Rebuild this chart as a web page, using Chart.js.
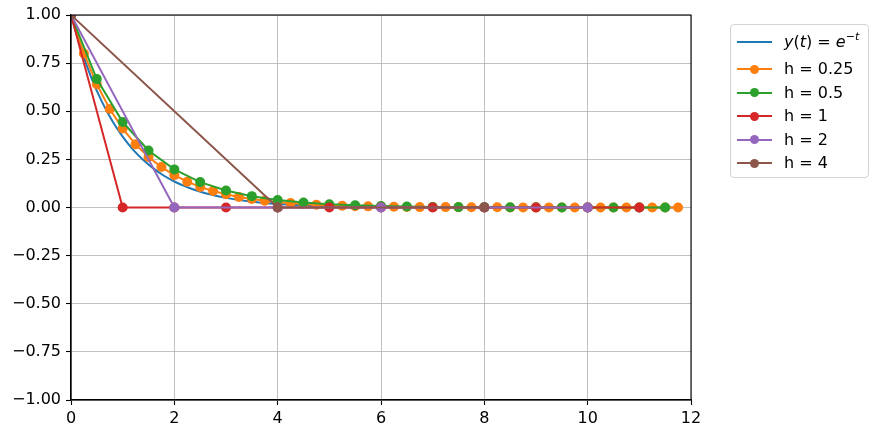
<!DOCTYPE html>
<html>
<head>
<meta charset="utf-8">
<script src="https://cdn.jsdelivr.net/npm/chart.js@4/dist/chart.umd.min.js"></script>
<style>
    body { margin: 0; background: #fff; }
    #wrap { position: relative; width: 878px; height: 435px; }
    #legend {
        position: absolute; left: 730px; top: 24px; width: 137px; height: 152px;
        border: 1px solid #d3d3d3; border-radius: 4px; background: rgba(255,255,255,0.8);
        font-family: "DejaVu Sans", sans-serif; font-size: 16px; color: #000;
    }
    .row { position: absolute; left: 0; height: 20px; width: 137px; }
    .row .ln { position: absolute; left: 6px; top: 9px; width: 35px; height: 2px; }
    .row .mk { position: absolute; left: 18.5px; top: 5.5px; width: 9px; height: 9px; border-radius: 50%; }
    .row .tx { position: absolute; left: 53px; top: 0; line-height: 20px; white-space: nowrap; }
    .row sup { font-size: 11px; vertical-align: 7px; line-height: 0; }
</style>
</head>
<body>
<div id="wrap">
    <canvas id="chart" width="878" height="435"></canvas>
    <div id="legend"></div>
</div>
<script>
// exakte Loesung y(t) = e^-t
const tExact = [0, 0.2, 0.4, 0.6, 0.8, 1, 1.2, 1.4, 1.6, 1.8, 2, 2.2, 2.4, 2.6, 2.8, 3, 3.5, 4, 4.5, 5, 5.5, 6, 7, 8, 10, 11.75];
const yExact = [1, 0.819, 0.670, 0.549, 0.449, 0.368, 0.301, 0.247, 0.202, 0.165, 0.135, 0.111, 0.091, 0.074, 0.061, 0.050, 0.030, 0.018, 0.011, 0.007, 0.004, 0.002, 0.001, 0, 0, 0];

// h = 0.25
const t025 = [0, 0.25, 0.5, 0.75, 1, 1.25, 1.5, 1.75, 2, 2.25, 2.5, 2.75,
    3, 3.25, 3.5, 3.75, 4, 4.25, 4.5, 4.75, 5, 5.25, 5.5, 5.75,
    6, 6.25, 6.5, 6.75, 7, 7.25, 7.5, 7.75, 8, 8.25, 8.5, 8.75,
    9, 9.25, 9.5, 9.75, 10, 10.25, 10.5, 10.75, 11, 11.25, 11.5, 11.75];
const y025 = [1, 0.8, 0.64, 0.512, 0.41, 0.328, 0.262, 0.21, 0.168, 0.134,
    0.107, 0.086, 0.069, 0.055, 0.044, 0.035, 0.028, 0.023, 0.018, 0.014,
    0.012, 0.009, 0.007, 0.006, 0.005, 0.004, 0.003, 0.002, 0.002, 0.002,
    0.001, 0.001, 0.001, 0.001, 0, 0, 0, 0, 0, 0, 0, 0, 0, 0, 0, 0, 0, 0];

// h = 0.5
const t05 = [0, 0.5, 1, 1.5, 2, 2.5, 3, 3.5, 4, 4.5, 5, 5.5, 6, 6.5, 7, 7.5, 8, 8.5, 9, 9.5, 10, 10.5, 11, 11.5];
const y05 = [1, 0.667, 0.444, 0.296, 0.198, 0.132, 0.088, 0.059, 0.039, 0.026, 0.017, 0.012,
    0.008, 0.005, 0.003, 0.002, 0.002, 0.001, 0.001, 0, 0, 0, 0, 0];

// h = 1, 2, 4
const t1 = [0, 1, 2, 3, 4, 5, 6, 7, 8, 9, 10, 11];
const y1 = [1, 0, 0, 0, 0, 0, 0, 0, 0, 0, 0, 0];
const t2 = [0, 2, 4, 6, 8, 10];
const y2 = [1, 0, 0, 0, 0, 0];
const t4 = [0, 4, 8];
const y4 = [1, 0, 0];

const xTicks = [0, 2, 4, 6, 8, 10, 12];
const yTicks = [-1, -0.75, -0.5, -0.25, 0, 0.25, 0.5, 0.75, 1];

const labels = ['y(t) = e^-t', 'h = 0.25', 'h = 0.5', 'h = 1', 'h = 2', 'h = 4'];
const farben = ['#1f77b4', '#ff7f0e', '#2ca02c', '#d62728', '#9467bd', '#8c564b'];

function paare(xs, ys) {
    return xs.map(function (x, i) { return { x: x, y: ys[i] }; });
}

const reihen = [[tExact, yExact], [t025, y025], [t05, y05], [t1, y1], [t2, y2], [t4, y4]];

const datasets = reihen.map(function (r, i) {
    return {
        label: labels[i],
        data: paare(r[0], r[1]),
        borderColor: farben[i],
        backgroundColor: farben[i],
        borderWidth: 2,
        pointRadius: i === 0 ? 0 : 5,
        pointBorderWidth: 0,
        pointHoverRadius: 0,
        cubicInterpolationMode: i === 0 ? 'monotone' : 'default',
        tension: 0,
        order: 6 - i   // spaetere Reihen oben, wie bei matplotlib
    };
});

// oberer und rechter Rahmen
const rahmen = {
    id: 'rahmen',
    afterDatasetsDraw(chart) {
        const a = chart.chartArea, ctx = chart.ctx;
        ctx.save();
        ctx.strokeStyle = '#000';
        ctx.lineWidth = 1.1;
        ctx.strokeRect(a.left, a.top, a.right - a.left, a.bottom - a.top);
        ctx.restore();
    }
};

Chart.defaults.font.family = '"DejaVu Sans", sans-serif';
Chart.defaults.font.size = 16;
Chart.defaults.color = '#000';

new Chart(document.getElementById('chart').getContext('2d'), {
    type: 'line',
    data: { datasets: datasets },
    options: {
        responsive: false,
        animation: false,
        events: [],
        layout: { padding: { left: 0, right: 187, top: 15, bottom: 0 } },
        plugins: { legend: { display: false }, tooltip: { enabled: false } },
        scales: {
            x: {
                type: 'linear', min: 0, max: 12,
                afterFit: function (s) { s.height = 35; },
                afterBuildTicks: function (s) { s.ticks = xTicks.map(function (v) { return { value: v }; }); },
                ticks: { padding: 4, maxRotation: 0, autoSkip: false },
                grid: { color: '#b0b0b0', lineWidth: 0.8, tickLength: 5, tickColor: '#000', tickWidth: 1.1 },
                border: { color: '#000', width: 1.1 }
            },
            y: {
                type: 'linear', min: -1, max: 1,
                afterFit: function (s) { s.width = 71; },
                afterBuildTicks: function (s) { s.ticks = yTicks.map(function (v) { return { value: v }; }); },
                ticks: {
                    padding: 5, autoSkip: false,
                    callback: function (v) { return (v < 0 ? '\u2212' : '') + Math.abs(v).toFixed(2); }
                },
                grid: { color: '#b0b0b0', lineWidth: 0.8, tickLength: 5, tickColor: '#000', tickWidth: 1.1 },
                border: { color: '#000', width: 1.1 }
            }
        }
    },
    plugins: [rahmen]
});

// Legende als HTML, damit Linie + Marker wie im Original aussehen
const mitten = [17, 44, 67.5, 91, 114.5, 138];
const leg = document.getElementById('legend');
labels.forEach(function (txt, i) {
    const row = document.createElement('div');
    row.className = 'row';
    row.style.top = (mitten[i] - 10) + 'px';
    let html = '<div class="ln" style="background:' + farben[i] + '"></div>';
    if (i > 0) html += '<div class="mk" style="background:' + farben[i] + '"></div>';
    const text = i === 0 ? '<i>y</i>(<i>t</i>) = <i>e</i><sup>\u2212<i>t</i></sup>' : txt;
    html += '<div class="tx">' + text + '</div>';
    row.innerHTML = html;
    leg.appendChild(row);
});
</script>
</body>
</html>
